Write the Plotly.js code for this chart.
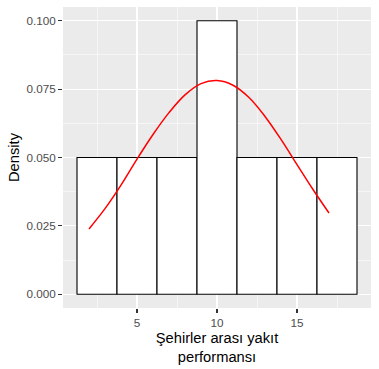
<!DOCTYPE html>
<html>
<head>
<meta charset="utf-8">
<script src="https://cdn.plot.ly/plotly-3.0.1.min.js"></script>
<style>html,body{margin:0;padding:0;background:#fff;}#chart{width:379px;height:369px;}</style>
</head>
<body>
<div id="chart"></div>
<script>
// Histogram bins (centres) and densities
const binCenters = [2.5, 5, 7.5, 10, 12.5, 15, 17.5];
const binDensity = [0.05, 0.05, 0.05, 0.1, 0.05, 0.05, 0.05];
const binWidth = 2.5;

// Red density curve
const curveX = [2, 3, 4, 5, 6, 7, 8, 9, 10, 11, 12, 13, 14, 15, 16, 17];
const curveY = [0.0239, 0.0313, 0.0399, 0.0494, 0.0584, 0.0664, 0.0729, 0.0770, 0.0781, 0.0764, 0.0719, 0.0650, 0.0566, 0.0474, 0.0383, 0.0297];

// Axis ticks
const xTicks = [5, 10, 15];
const xMinor = [2.5, 7.5, 12.5, 17.5];
const yTicks = [0, 0.025, 0.05, 0.075, 0.1];
const yTickText = ["0.000", "0.025", "0.050", "0.075", "0.100"];
const yMinor = [0.0125, 0.0375, 0.0625, 0.0875];

const font = "Arial, 'Liberation Sans', sans-serif";

const traces = [
  {
    type: 'bar',
    x: binCenters,
    y: binDensity,
    width: binWidth,
    marker: {color: '#FFFFFF', line: {color: '#000000', width: 1.1}},
    hoverinfo: 'skip',
    showlegend: false
  },
  {
    type: 'scatter',
    mode: 'lines',
    x: curveX,
    y: curveY,
    line: {color: '#FF0000', width: 1.5, shape: 'spline'},
    hoverinfo: 'skip',
    showlegend: false
  }
];

const layout = {
  width: 379,
  height: 369,
  margin: {l: 63, r: 8, t: 7, b: 61},
  paper_bgcolor: '#FFFFFF',
  plot_bgcolor: '#EBEBEB',
  bargap: 0,
  font: {family: font, color: '#000000'},
  xaxis: {
    range: [0.375, 19.625],
    tickmode: 'array',
    tickvals: xTicks,
    ticktext: xTicks.map(String),
    ticks: 'outside',
    ticklen: 4,
    tickwidth: 1.1,
    tickcolor: '#333333',
    tickfont: {family: font, size: 11.7, color: '#4D4D4D'},
    showgrid: true,
    gridcolor: '#FFFFFF',
    gridwidth: 1.1,
    minor: {tickmode: 'array', tickvals: xMinor, showgrid: true, gridcolor: '#FFFFFF', gridwidth: 0.55, ticks: ''},
    zeroline: false,
    showline: false,
    automargin: false,
    title: {text: 'Şehirler arası yakıt<br>performansı', font: {family: font, size: 14.7, color: '#000000'}, standoff: 4}
  },
  yaxis: {
    range: [-0.005, 0.105],
    tickmode: 'array',
    tickvals: yTicks,
    ticktext: yTickText,
    ticks: 'outside',
    ticklen: 4,
    tickwidth: 1.1,
    tickcolor: '#333333',
    tickfont: {family: font, size: 11.7, color: '#4D4D4D'},
    showgrid: true,
    gridcolor: '#FFFFFF',
    gridwidth: 1.1,
    minor: {tickmode: 'array', tickvals: yMinor, showgrid: true, gridcolor: '#FFFFFF', gridwidth: 0.55, ticks: ''},
    zeroline: false,
    showline: false,
    automargin: false,
    title: {text: 'Density', font: {family: font, size: 14.7, color: '#000000'}, standoff: 3}
  }
};

Plotly.newPlot('chart', traces, layout, {displayModeBar: false, staticPlot: true});
</script>
</body>
</html>
